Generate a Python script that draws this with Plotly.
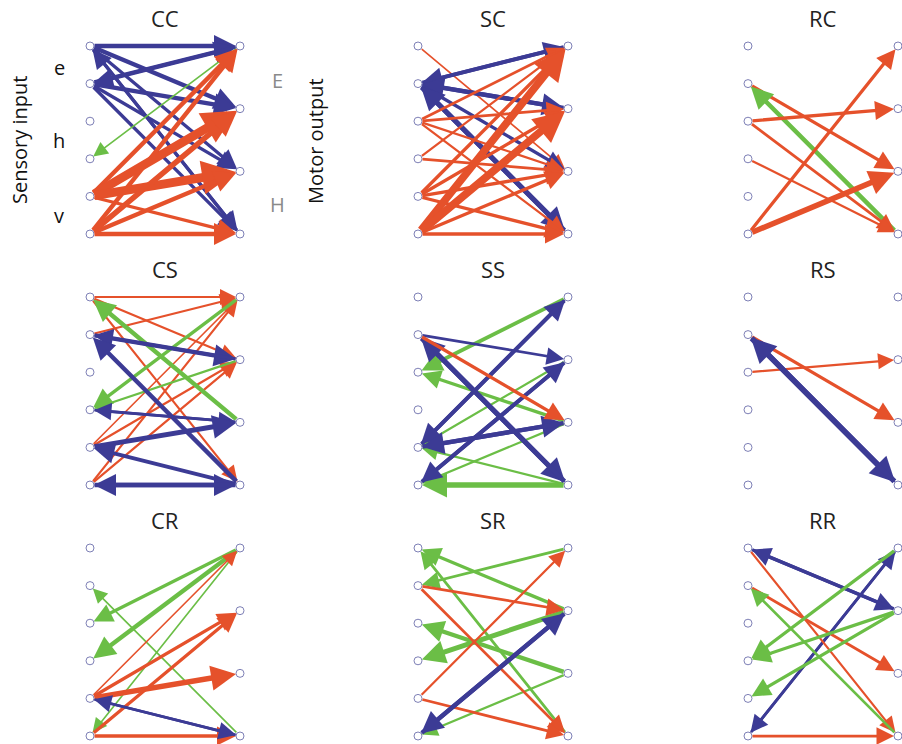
import plotly.graph_objects as go

# Node names: six sensory inputs (left column) and four motor outputs (right column)
SENSORY = ["e1", "e2", "h1", "h2", "v1", "v2"]
MOTOR = ["E1", "E2", "H1", "H2"]

# Connection lists per panel: (source, target, kind, strength)
# kind: "p" = positive, "n" = negative, "m" = mixed
EDGES_CC = [
    ("e1", "E1", "n", 4), ("e1", "E2", "n", 4), ("e1", "H1", "n", 3), ("e1", "H2", "n", 3),
    ("e2", "E1", "n", 4), ("e2", "E2", "n", 4), ("e2", "H1", "n", 3), ("e2", "H2", "n", 3),
    ("E1", "e2", "n", 3), ("H2", "e1", "n", 3),
    ("E1", "h2", "m", 1.5),
    ("v1", "E1", "p", 4), ("v1", "E2", "p", 8), ("v1", "H1", "p", 8), ("v1", "H2", "p", 3),
    ("v2", "E1", "p", 4), ("v2", "E2", "p", 5), ("v2", "H1", "p", 4), ("v2", "H2", "p", 4),
]
EDGES_SC = [
    ("e1", "H1", "p", 1.5),
    ("e2", "E1", "n", 3.5), ("E1", "e2", "n", 3.5), ("e2", "E2", "n", 4), ("E2", "e2", "n", 4),
    ("e2", "H1", "n", 3), ("e2", "H2", "n", 4.5), ("H2", "e2", "n", 4.5),
    ("h1", "E1", "p", 2.5), ("h1", "E2", "p", 2.5), ("h1", "H1", "p", 2), ("h1", "H2", "p", 2),
    ("h2", "E1", "p", 2), ("h2", "H1", "p", 2.5),
    ("v1", "E1", "p", 3), ("v1", "E2", "p", 3), ("v1", "H1", "p", 3), ("v1", "H2", "p", 3),
    ("v2", "E1", "p", 7), ("v2", "E2", "p", 7), ("v2", "H1", "p", 3), ("v2", "H2", "p", 3),
]
EDGES_RC = [
    ("e2", "H1", "p", 3), ("H2", "e2", "m", 4),
    ("h1", "E2", "p", 3), ("h1", "H2", "p", 2.5), ("h2", "H2", "p", 2),
    ("v2", "E1", "p", 3), ("v2", "H1", "p", 5),
]
EDGES_CS = [
    ("e1", "E1", "p", 2), ("e1", "E2", "p", 2), ("e1", "H2", "p", 2), ("e2", "E1", "p", 2),
    ("v1", "E1", "p", 1.5), ("v2", "E1", "p", 2), ("v1", "E2", "p", 2), ("v2", "E2", "p", 2),
    ("H1", "e1", "m", 4), ("E1", "h2", "m", 3), ("E2", "h2", "m", 2),
    ("e2", "E2", "n", 4), ("E2", "e2", "n", 3), ("H2", "e2", "n", 4),
    ("h2", "H1", "n", 2.5), ("H1", "h2", "n", 2.5), ("v1", "H1", "n", 4.5), ("H2", "v1", "n", 3.5),
    ("v2", "H2", "n", 4), ("H2", "v2", "n", 4),
]
EDGES_SS = [
    ("E1", "h1", "m", 3.5), ("H1", "h1", "m", 3), ("E2", "v1", "m", 2),
    ("H1", "v2", "m", 2), ("H2", "v1", "m", 2), ("H2", "v2", "m", 5),
    ("v1", "E1", "n", 3.5), ("E1", "v1", "n", 3.5), ("v2", "E2", "n", 3.5), ("E2", "v2", "n", 3.5),
    ("e2", "E2", "n", 2.5), ("e2", "H2", "n", 4.5), ("H2", "e2", "n", 4.5),
    ("v1", "H1", "n", 4), ("H1", "v1", "n", 4),
    ("e2", "H1", "p", 3),
]
EDGES_RS = [
    ("h1", "E2", "p", 2), ("e2", "H1", "p", 3),
    ("e2", "H2", "n", 5), ("H2", "e2", "n", 5),
]
EDGES_CR = [
    ("E1", "h1", "m", 3), ("E1", "h2", "m", 4), ("H2", "e2", "m", 1.5), ("E1", "v2", "m", 1.5),
    ("v1", "E1", "p", 1.5), ("v1", "E2", "p", 3), ("v2", "E2", "p", 3),
    ("v1", "H1", "p", 5), ("v2", "H2", "p", 3),
    ("v1", "H2", "n", 2.5), ("H2", "v1", "n", 2.5),
]
EDGES_SR = [
    ("E1", "e2", "m", 2.5), ("E2", "e1", "m", 3), ("H2", "e1", "m", 2.5),
    ("E2", "h2", "m", 4.5), ("H1", "h1", "m", 4), ("H1", "v2", "m", 2),
    ("e2", "E2", "p", 2.5), ("e2", "H2", "p", 2.5), ("v1", "E1", "p", 2), ("v1", "H2", "p", 2.5),
    ("v2", "E2", "n", 4), ("E2", "v2", "n", 4),
]
EDGES_RR = [
    ("e1", "E2", "n", 3), ("E2", "e1", "n", 3), ("v2", "E1", "n", 2.5), ("E1", "v2", "n", 2.5),
    ("e1", "H2", "p", 2), ("e2", "H1", "p", 2.5), ("v2", "H2", "p", 2.5),
    ("H2", "e2", "m", 2.5), ("E1", "h2", "m", 3), ("E2", "h2", "m", 3), ("E2", "v1", "m", 3),
]

COL_CODES = ["C", "S", "R"]
ROW_CODES = ["C", "S", "R"]
PANEL_EDGES = {
    "CC": EDGES_CC, "SC": EDGES_SC, "RC": EDGES_RC,
    "CS": EDGES_CS, "SS": EDGES_SS, "RS": EDGES_RS,
    "CR": EDGES_CR, "SR": EDGES_SR, "RR": EDGES_RR,
}

# ---- layout / style ----
W, H = 902, 744
COL_LEFT = [90, 418, 748]
SPAN_X = 150
ROW_TOP = [46, 297, 548]
SPAN_Y = 188
KIND_COLOR = {"p": "#E5512B", "n": "#3C3B95", "m": "#6BBE46"}
NODE_COLOR = "#7E80B6"
FONT = "Open Sans"
WIDTH_SCALE = 1.1


def node_xy(name):
    if name in SENSORY:
        return 0.0, SENSORY.index(name) / (len(SENSORY) - 1)
    return 1.0, MOTOR.index(name) / (len(MOTOR) - 1)


fig = go.Figure()
layout = dict(
    width=W, height=H, margin=dict(l=0, r=0, t=0, b=0),
    paper_bgcolor="white", plot_bgcolor="white", showlegend=False,
)
annotations = []

k = 0
for r, rc in enumerate(ROW_CODES):
    for c, cc in enumerate(COL_CODES):
        k += 1
        name = cc + rc
        xa = "xaxis" if k == 1 else f"xaxis{k}"
        ya = "yaxis" if k == 1 else f"yaxis{k}"
        xr = "x" if k == 1 else f"x{k}"
        yr = "y" if k == 1 else f"y{k}"
        x0 = COL_LEFT[c]
        y0 = ROW_TOP[r]
        layout[xa] = dict(domain=[x0 / W, (x0 + SPAN_X) / W], range=[0, 1],
                          visible=False, anchor=yr, fixedrange=True)
        layout[ya] = dict(domain=[1 - (y0 + SPAN_Y) / H, 1 - y0 / H], range=[1, 0],
                          visible=False, anchor=xr, fixedrange=True)

        # nodes
        pts = [node_xy(n) for n in SENSORY + MOTOR]
        fig.add_trace(go.Scatter(
            x=[p[0] for p in pts], y=[p[1] for p in pts], mode="markers",
            xaxis=xr, yaxis=yr, cliponaxis=False, hoverinfo="skip",
            marker=dict(symbol="circle", size=8, color="white",
                        line=dict(color=NODE_COLOR, width=1)),
        ))

        # connections
        for src, dst, kind, strength in PANEL_EDGES[name]:
            sx, sy = node_xy(src)
            tx, ty = node_xy(dst)
            lw = strength * WIDTH_SCALE
            head_len = 10 + 3.0 * strength
            annotations.append(dict(
                x=tx, y=ty, ax=sx, ay=sy,
                xref=xr, yref=yr, axref=xr, ayref=yr,
                text="", showarrow=True, arrowhead=2,
                arrowsize=max(0.3, head_len / (5 * lw)),
                arrowwidth=lw, arrowcolor=KIND_COLOR[kind],
                standoff=4, startstandoff=3,
            ))

        # panel title
        annotations.append(dict(
            x=(x0 + SPAN_X / 2) / W, y=1 - (y0 - 28) / H, xref="paper", yref="paper",
            text=name, showarrow=False, xanchor="center", yanchor="middle",
            font=dict(family=FONT, size=22, color="#222222"),
        ))


def paper_text(txt, px, py, size, color, angle=0):
    annotations.append(dict(
        x=px / W, y=1 - py / H, xref="paper", yref="paper", text=txt,
        showarrow=False, xanchor="center", yanchor="middle", textangle=angle,
        font=dict(family=FONT, size=size, color=color),
    ))


paper_text("Sensory input", 19, 140, 20, "#111111", -90)
paper_text("Motor output", 316, 141, 20, "#111111", -90)
paper_text("e", 59, 67, 20, "#111111")
paper_text("h", 59, 141, 20, "#111111")
paper_text("v", 59, 216, 20, "#111111")
paper_text("E", 277, 80, 20, "#8A8A8A")
paper_text("H", 277, 205, 20, "#8A8A8A")

layout["annotations"] = annotations
fig.update_layout(**layout)
fig.write_html("out.html")
